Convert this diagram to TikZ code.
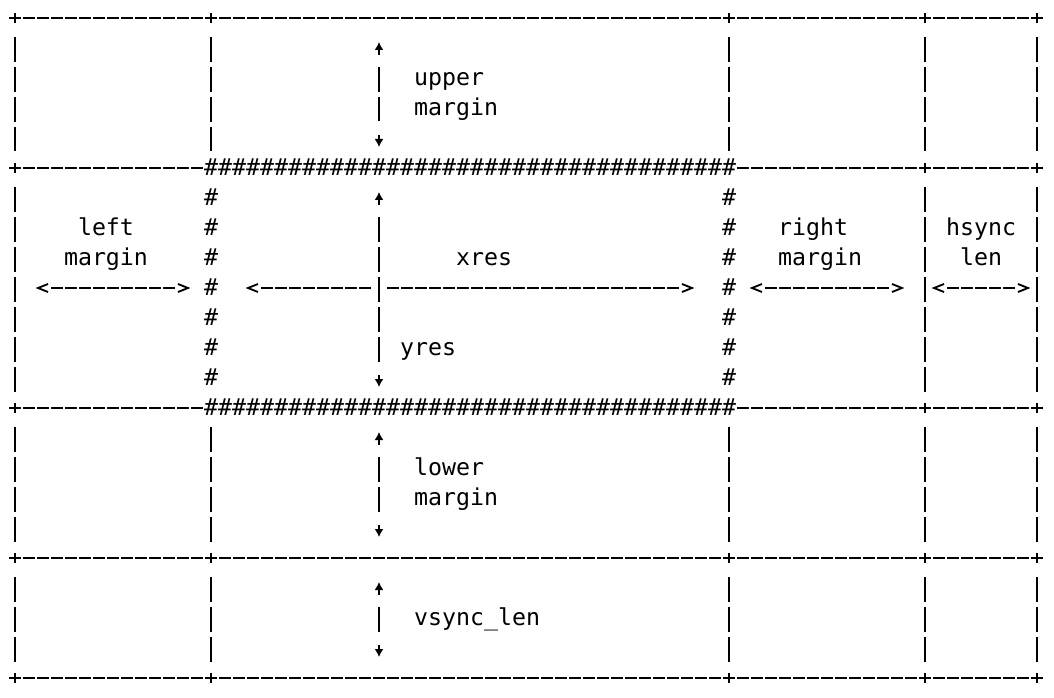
\documentclass[tikz,border=0pt]{standalone}
\usepackage{fontspec}
\setmonofont{DejaVu Sans Mono}
\usetikzlibrary{arrows.meta}

\tikzset{
  dashrule/.style={line width=1.8pt, dash pattern=on 11.5pt off 2.5pt},
  barrule/.style={line width=1.8pt, dash pattern=on 25pt off 5pt},
  glyphln/.style={line width=1.8pt, line join=miter},
  lbl/.style={font=\ttfamily\fontsize{23.25}{30}\selectfont, inner sep=0pt, execute at begin node=\strut},
  hashch/.style={font=\ttfamily\fontsize{23.25}{30}\selectfont, inner sep=0pt, anchor=base},
  ltip/.pic={\draw[glyphln] (0.357,-0.133) -- (-0.357,0) -- (0.357,0.133);},
  rtip/.pic={\draw[glyphln] (-0.357,-0.133) -- (0.357,0) -- (-0.357,0.133);},
  uptip/.style={line width=1.5pt, -{Latex[length=8pt,width=9pt]}}
}

\begin{document}
\begin{tikzpicture}[x=14pt, y=-30pt]
  \useasboundingbox (-1.0714,-0.6) rectangle (74.2143,22.6667);

  \foreach \r in {0,18,22}
    \draw[dashrule] (-0.4107,\r) -- (73.4107,\r);
  \foreach \r in {5,13} {
    \draw[dashrule] (-0.4107,\r) -- (13.4107,\r);
    \draw[dashrule] (51.5893,\r) -- (73.4107,\r);
  }

  \foreach \c in {0,14,51,65,73}
    \foreach \r in {0,18,22}
      \draw[glyphln] (\c,\r-0.167) -- (\c,\r+0.167);
  \foreach \c in {0,65,73}
    \foreach \r in {5,13}
      \draw[glyphln] (\c,\r-0.167) -- (\c,\r+0.167);

  \foreach \c in {0,14,51,65,73} {
    \draw[barrule] (\c,1-0.383) -- (\c,4+0.45);
    \draw[barrule] (\c,14-0.383) -- (\c,17+0.45);
    \draw[barrule] (\c,19-0.383) -- (\c,21+0.45);
  }
  \foreach \c in {0,65,73}
    \draw[barrule] (\c,6-0.383) -- (\c,12+0.45);

  \foreach \c in {14,...,51} {
    \node[hashch] (ht\c) at (\c,5.25) {\#};
    \node[hashch] (hb\c) at (\c,13.25) {\#};
  }
  \foreach \r in {6,...,12} {
    \node[hashch] (hl\r) at (14,\r+0.25) {\#};
    \node[hashch] (hr\r) at (51,\r+0.25) {\#};
  }

  \foreach \a/\b in {1/4,6/12,14/17,19/21} {
    \draw[uptip] (26,\a+0.23) -- (26,\a-0.2);
    \draw[uptip] (26,\b-0.1) -- (26,\b+0.3);
    \draw[barrule] (26,\a+1-0.383) -- (26,\b-1+0.45);
  }

  \foreach \a/\b in {2/12,53/63,66/72} {
    \pic at (\a,9) {ltip};
    \pic at (\b,9) {rtip};
    \draw[dashrule] (\a+1-0.4107,9) -- (\b-1+0.4107,9);
  }
  \pic at (17,9) {ltip};
  \pic at (48,9) {rtip};
  \draw[dashrule] (17.5893,9) -- (25.4107,9);
  \draw[dashrule] (26.5893,9) -- (47.4107,9);

  \node[lbl, anchor=north west, align=left] (upmarg) at (28.5,1.55) {\strut upper\\margin};
  \node[lbl, anchor=north, align=center] (lmarg) at (6.5,6.55) {\strut left\\margin};
  \node[lbl, anchor=north west, align=left] (rmarg) at (54.5,6.55) {\strut right\\margin};
  \node[lbl, anchor=north, align=center] (hsync) at (69,6.55) {\strut hsync\\len};
  \node[lbl, anchor=north west] (xres) at (31.5,7.55) {xres};
  \node[lbl, anchor=north west] (yres) at (27.5,10.55) {yres};
  \node[lbl, anchor=north west, align=left] (lomarg) at (28.5,14.55) {\strut lower\\margin};
  \node[lbl, anchor=north west] (vsync) at (28.5,19.55) {vsync\_len};
\end{tikzpicture}
\end{document}
